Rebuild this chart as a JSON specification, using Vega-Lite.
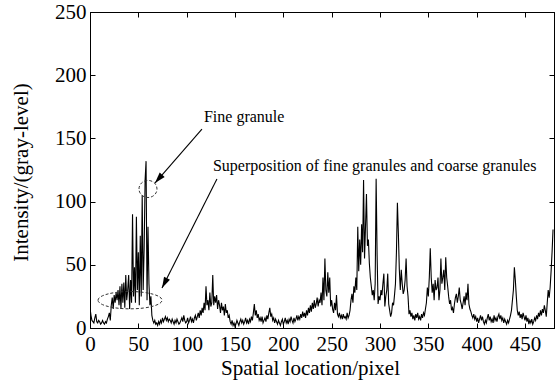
{
  "$schema": "https://vega.github.io/schema/vega-lite/v6.json",
  "width": 464,
  "height": 316,
  "autosize": {"type": "none"},
  "padding": {"left": 90, "top": 12, "right": 2, "bottom": 53},
  "background": "white",
  "datasets": {
    "profile": [
      {"pixel":0,"intensity":16},{"pixel":1,"intensity":10},{"pixel":2,"intensity":6},{"pixel":3,"intensity":5},{"pixel":4,"intensity":4},
      {"pixel":5,"intensity":8},{"pixel":6,"intensity":11},{"pixel":7,"intensity":5},{"pixel":8,"intensity":4},{"pixel":9,"intensity":6},
      {"pixel":10,"intensity":5},{"pixel":11,"intensity":3},{"pixel":12,"intensity":4},{"pixel":13,"intensity":6},{"pixel":14,"intensity":4},
      {"pixel":15,"intensity":3},{"pixel":16,"intensity":5},{"pixel":17,"intensity":4},{"pixel":18,"intensity":7},{"pixel":19,"intensity":9},
      {"pixel":20,"intensity":12},{"pixel":21,"intensity":6},{"pixel":22,"intensity":18},{"pixel":23,"intensity":24},{"pixel":24,"intensity":15},
      {"pixel":25,"intensity":26},{"pixel":26,"intensity":20},{"pixel":27,"intensity":28},{"pixel":28,"intensity":22},{"pixel":29,"intensity":30},
      {"pixel":30,"intensity":18},{"pixel":31,"intensity":33},{"pixel":32,"intensity":15},{"pixel":33,"intensity":35},{"pixel":34,"intensity":20},
      {"pixel":35,"intensity":36},{"pixel":36,"intensity":16},{"pixel":37,"intensity":42},{"pixel":38,"intensity":22},{"pixel":39,"intensity":30},
      {"pixel":40,"intensity":42},{"pixel":41,"intensity":15},{"pixel":42,"intensity":38},{"pixel":43,"intensity":20},{"pixel":44,"intensity":90},
      {"pixel":45,"intensity":25},{"pixel":46,"intensity":48},{"pixel":47,"intensity":20},{"pixel":48,"intensity":88},{"pixel":49,"intensity":30},
      {"pixel":50,"intensity":60},{"pixel":51,"intensity":18},{"pixel":52,"intensity":73},{"pixel":53,"intensity":25},{"pixel":54,"intensity":105},
      {"pixel":55,"intensity":30},{"pixel":56,"intensity":62},{"pixel":57,"intensity":117},{"pixel":58,"intensity":132},{"pixel":59,"intensity":22},
      {"pixel":60,"intensity":80},{"pixel":61,"intensity":35},{"pixel":62,"intensity":18},{"pixel":63,"intensity":25},{"pixel":64,"intensity":10},
      {"pixel":65,"intensity":6},{"pixel":66,"intensity":4},{"pixel":67,"intensity":6},{"pixel":68,"intensity":3},{"pixel":69,"intensity":4},
      {"pixel":70,"intensity":2},{"pixel":71,"intensity":5},{"pixel":72,"intensity":3},{"pixel":73,"intensity":6},{"pixel":74,"intensity":4},
      {"pixel":75,"intensity":8},{"pixel":76,"intensity":5},{"pixel":77,"intensity":7},{"pixel":78,"intensity":9},{"pixel":79,"intensity":6},
      {"pixel":80,"intensity":8},{"pixel":81,"intensity":5},{"pixel":82,"intensity":7},{"pixel":83,"intensity":6},{"pixel":84,"intensity":4},
      {"pixel":85,"intensity":7},{"pixel":86,"intensity":5},{"pixel":87,"intensity":3},{"pixel":88,"intensity":6},{"pixel":89,"intensity":4},
      {"pixel":90,"intensity":7},{"pixel":91,"intensity":5},{"pixel":92,"intensity":3},{"pixel":93,"intensity":4},{"pixel":94,"intensity":6},
      {"pixel":95,"intensity":8},{"pixel":96,"intensity":5},{"pixel":97,"intensity":10},{"pixel":98,"intensity":6},{"pixel":99,"intensity":4},
      {"pixel":100,"intensity":5},{"pixel":101,"intensity":8},{"pixel":102,"intensity":4},{"pixel":103,"intensity":6},{"pixel":104,"intensity":9},
      {"pixel":105,"intensity":5},{"pixel":106,"intensity":7},{"pixel":107,"intensity":4},{"pixel":108,"intensity":8},{"pixel":109,"intensity":10},
      {"pixel":110,"intensity":6},{"pixel":111,"intensity":9},{"pixel":112,"intensity":12},{"pixel":113,"intensity":8},{"pixel":114,"intensity":14},
      {"pixel":115,"intensity":10},{"pixel":116,"intensity":16},{"pixel":117,"intensity":12},{"pixel":118,"intensity":20},{"pixel":119,"intensity":14},
      {"pixel":120,"intensity":33},{"pixel":121,"intensity":18},{"pixel":122,"intensity":22},{"pixel":123,"intensity":14},{"pixel":124,"intensity":28},
      {"pixel":125,"intensity":17},{"pixel":126,"intensity":20},{"pixel":127,"intensity":42},{"pixel":128,"intensity":18},{"pixel":129,"intensity":25},
      {"pixel":130,"intensity":20},{"pixel":131,"intensity":26},{"pixel":132,"intensity":15},{"pixel":133,"intensity":22},{"pixel":134,"intensity":18},
      {"pixel":135,"intensity":12},{"pixel":136,"intensity":20},{"pixel":137,"intensity":14},{"pixel":138,"intensity":17},{"pixel":139,"intensity":10},
      {"pixel":140,"intensity":19},{"pixel":141,"intensity":12},{"pixel":142,"intensity":14},{"pixel":143,"intensity":8},{"pixel":144,"intensity":10},
      {"pixel":145,"intensity":5},{"pixel":146,"intensity":3},{"pixel":147,"intensity":6},{"pixel":148,"intensity":2},{"pixel":149,"intensity":4},
      {"pixel":150,"intensity":1},{"pixel":151,"intensity":3},{"pixel":152,"intensity":6},{"pixel":153,"intensity":4},{"pixel":154,"intensity":2},
      {"pixel":155,"intensity":5},{"pixel":156,"intensity":7},{"pixel":157,"intensity":4},{"pixel":158,"intensity":6},{"pixel":159,"intensity":3},
      {"pixel":160,"intensity":5},{"pixel":161,"intensity":8},{"pixel":162,"intensity":4},{"pixel":163,"intensity":6},{"pixel":164,"intensity":3},
      {"pixel":165,"intensity":7},{"pixel":166,"intensity":5},{"pixel":167,"intensity":9},{"pixel":168,"intensity":6},{"pixel":169,"intensity":12},
      {"pixel":170,"intensity":19},{"pixel":171,"intensity":10},{"pixel":172,"intensity":14},{"pixel":173,"intensity":8},{"pixel":174,"intensity":11},
      {"pixel":175,"intensity":6},{"pixel":176,"intensity":8},{"pixel":177,"intensity":5},{"pixel":178,"intensity":9},{"pixel":179,"intensity":4},
      {"pixel":180,"intensity":6},{"pixel":181,"intensity":8},{"pixel":182,"intensity":5},{"pixel":183,"intensity":10},{"pixel":184,"intensity":7},
      {"pixel":185,"intensity":12},{"pixel":186,"intensity":16},{"pixel":187,"intensity":9},{"pixel":188,"intensity":11},{"pixel":189,"intensity":6},
      {"pixel":190,"intensity":8},{"pixel":191,"intensity":4},{"pixel":192,"intensity":7},{"pixel":193,"intensity":5},{"pixel":194,"intensity":3},
      {"pixel":195,"intensity":6},{"pixel":196,"intensity":4},{"pixel":197,"intensity":2},{"pixel":198,"intensity":5},{"pixel":199,"intensity":7},
      {"pixel":200,"intensity":3},{"pixel":201,"intensity":5},{"pixel":202,"intensity":8},{"pixel":203,"intensity":4},{"pixel":204,"intensity":6},
      {"pixel":205,"intensity":3},{"pixel":206,"intensity":7},{"pixel":207,"intensity":5},{"pixel":208,"intensity":9},{"pixel":209,"intensity":6},
      {"pixel":210,"intensity":4},{"pixel":211,"intensity":8},{"pixel":212,"intensity":5},{"pixel":213,"intensity":7},{"pixel":214,"intensity":10},
      {"pixel":215,"intensity":6},{"pixel":216,"intensity":9},{"pixel":217,"intensity":7},{"pixel":218,"intensity":11},{"pixel":219,"intensity":8},
      {"pixel":220,"intensity":13},{"pixel":221,"intensity":9},{"pixel":222,"intensity":12},{"pixel":223,"intensity":8},{"pixel":224,"intensity":14},
      {"pixel":225,"intensity":10},{"pixel":226,"intensity":16},{"pixel":227,"intensity":12},{"pixel":228,"intensity":18},{"pixel":229,"intensity":13},
      {"pixel":230,"intensity":20},{"pixel":231,"intensity":15},{"pixel":232,"intensity":22},{"pixel":233,"intensity":16},{"pixel":234,"intensity":19},
      {"pixel":235,"intensity":24},{"pixel":236,"intensity":17},{"pixel":237,"intensity":22},{"pixel":238,"intensity":20},{"pixel":239,"intensity":28},
      {"pixel":240,"intensity":18},{"pixel":241,"intensity":40},{"pixel":242,"intensity":22},{"pixel":243,"intensity":55},{"pixel":244,"intensity":30},
      {"pixel":245,"intensity":25},{"pixel":246,"intensity":44},{"pixel":247,"intensity":28},{"pixel":248,"intensity":40},{"pixel":249,"intensity":17},
      {"pixel":250,"intensity":22},{"pixel":251,"intensity":15},{"pixel":252,"intensity":12},{"pixel":253,"intensity":20},{"pixel":254,"intensity":14},
      {"pixel":255,"intensity":26},{"pixel":256,"intensity":11},{"pixel":257,"intensity":9},{"pixel":258,"intensity":12},{"pixel":259,"intensity":8},
      {"pixel":260,"intensity":10},{"pixel":261,"intensity":7},{"pixel":262,"intensity":11},{"pixel":263,"intensity":8},{"pixel":264,"intensity":9},
      {"pixel":265,"intensity":7},{"pixel":266,"intensity":12},{"pixel":267,"intensity":8},{"pixel":268,"intensity":10},{"pixel":269,"intensity":14},
      {"pixel":270,"intensity":22},{"pixel":271,"intensity":27},{"pixel":272,"intensity":20},{"pixel":273,"intensity":33},{"pixel":274,"intensity":28},
      {"pixel":275,"intensity":40},{"pixel":276,"intensity":30},{"pixel":277,"intensity":80},{"pixel":278,"intensity":45},{"pixel":279,"intensity":70},
      {"pixel":280,"intensity":50},{"pixel":281,"intensity":82},{"pixel":282,"intensity":60},{"pixel":283,"intensity":117},{"pixel":284,"intensity":55},
      {"pixel":285,"intensity":80},{"pixel":286,"intensity":106},{"pixel":287,"intensity":65},{"pixel":288,"intensity":70},{"pixel":289,"intensity":51},
      {"pixel":290,"intensity":40},{"pixel":291,"intensity":33},{"pixel":292,"intensity":26},{"pixel":293,"intensity":30},{"pixel":294,"intensity":22},
      {"pixel":295,"intensity":35},{"pixel":296,"intensity":118},{"pixel":297,"intensity":58},{"pixel":298,"intensity":19},{"pixel":299,"intensity":25},
      {"pixel":300,"intensity":22},{"pixel":301,"intensity":30},{"pixel":302,"intensity":26},{"pixel":303,"intensity":35},{"pixel":304,"intensity":43},
      {"pixel":305,"intensity":17},{"pixel":306,"intensity":25},{"pixel":307,"intensity":30},{"pixel":308,"intensity":43},{"pixel":309,"intensity":19},
      {"pixel":310,"intensity":14},{"pixel":311,"intensity":9},{"pixel":312,"intensity":12},{"pixel":313,"intensity":20},{"pixel":314,"intensity":18},
      {"pixel":315,"intensity":26},{"pixel":316,"intensity":35},{"pixel":317,"intensity":60},{"pixel":318,"intensity":99},{"pixel":319,"intensity":75},
      {"pixel":320,"intensity":46},{"pixel":321,"intensity":30},{"pixel":322,"intensity":46},{"pixel":323,"intensity":35},{"pixel":324,"intensity":27},
      {"pixel":325,"intensity":30},{"pixel":326,"intensity":38},{"pixel":327,"intensity":55},{"pixel":328,"intensity":33},{"pixel":329,"intensity":25},
      {"pixel":330,"intensity":11},{"pixel":331,"intensity":14},{"pixel":332,"intensity":9},{"pixel":333,"intensity":12},{"pixel":334,"intensity":7},
      {"pixel":335,"intensity":10},{"pixel":336,"intensity":6},{"pixel":337,"intensity":11},{"pixel":338,"intensity":8},{"pixel":339,"intensity":12},
      {"pixel":340,"intensity":7},{"pixel":341,"intensity":9},{"pixel":342,"intensity":6},{"pixel":343,"intensity":11},{"pixel":344,"intensity":8},
      {"pixel":345,"intensity":12},{"pixel":346,"intensity":10},{"pixel":347,"intensity":15},{"pixel":348,"intensity":20},{"pixel":349,"intensity":32},
      {"pixel":350,"intensity":25},{"pixel":351,"intensity":40},{"pixel":352,"intensity":63},{"pixel":353,"intensity":40},{"pixel":354,"intensity":28},
      {"pixel":355,"intensity":35},{"pixel":356,"intensity":22},{"pixel":357,"intensity":38},{"pixel":358,"intensity":30},{"pixel":359,"intensity":32},
      {"pixel":360,"intensity":40},{"pixel":361,"intensity":22},{"pixel":362,"intensity":30},{"pixel":363,"intensity":55},{"pixel":364,"intensity":35},
      {"pixel":365,"intensity":40},{"pixel":366,"intensity":46},{"pixel":367,"intensity":30},{"pixel":368,"intensity":56},{"pixel":369,"intensity":40},
      {"pixel":370,"intensity":33},{"pixel":371,"intensity":25},{"pixel":372,"intensity":19},{"pixel":373,"intensity":22},{"pixel":374,"intensity":14},
      {"pixel":375,"intensity":16},{"pixel":376,"intensity":12},{"pixel":377,"intensity":19},{"pixel":378,"intensity":24},{"pixel":379,"intensity":27},
      {"pixel":380,"intensity":20},{"pixel":381,"intensity":25},{"pixel":382,"intensity":32},{"pixel":383,"intensity":22},{"pixel":384,"intensity":19},
      {"pixel":385,"intensity":15},{"pixel":386,"intensity":20},{"pixel":387,"intensity":25},{"pixel":388,"intensity":18},{"pixel":389,"intensity":28},
      {"pixel":390,"intensity":22},{"pixel":391,"intensity":35},{"pixel":392,"intensity":19},{"pixel":393,"intensity":15},{"pixel":394,"intensity":13},
      {"pixel":395,"intensity":10},{"pixel":396,"intensity":8},{"pixel":397,"intensity":11},{"pixel":398,"intensity":7},{"pixel":399,"intensity":9},
      {"pixel":400,"intensity":5},{"pixel":401,"intensity":8},{"pixel":402,"intensity":4},{"pixel":403,"intensity":7},{"pixel":404,"intensity":10},
      {"pixel":405,"intensity":6},{"pixel":406,"intensity":9},{"pixel":407,"intensity":5},{"pixel":408,"intensity":3},{"pixel":409,"intensity":6},
      {"pixel":410,"intensity":4},{"pixel":411,"intensity":8},{"pixel":412,"intensity":11},{"pixel":413,"intensity":6},{"pixel":414,"intensity":9},
      {"pixel":415,"intensity":5},{"pixel":416,"intensity":7},{"pixel":417,"intensity":4},{"pixel":418,"intensity":10},{"pixel":419,"intensity":6},
      {"pixel":420,"intensity":8},{"pixel":421,"intensity":5},{"pixel":422,"intensity":9},{"pixel":423,"intensity":11},{"pixel":424,"intensity":7},
      {"pixel":425,"intensity":10},{"pixel":426,"intensity":6},{"pixel":427,"intensity":8},{"pixel":428,"intensity":4},{"pixel":429,"intensity":7},
      {"pixel":430,"intensity":5},{"pixel":431,"intensity":3},{"pixel":432,"intensity":6},{"pixel":433,"intensity":4},{"pixel":434,"intensity":7},
      {"pixel":435,"intensity":10},{"pixel":436,"intensity":14},{"pixel":437,"intensity":22},{"pixel":438,"intensity":30},{"pixel":439,"intensity":48},
      {"pixel":440,"intensity":38},{"pixel":441,"intensity":25},{"pixel":442,"intensity":14},{"pixel":443,"intensity":10},{"pixel":444,"intensity":13},
      {"pixel":445,"intensity":8},{"pixel":446,"intensity":11},{"pixel":447,"intensity":7},{"pixel":448,"intensity":12},{"pixel":449,"intensity":9},
      {"pixel":450,"intensity":6},{"pixel":451,"intensity":10},{"pixel":452,"intensity":5},{"pixel":453,"intensity":8},{"pixel":454,"intensity":3},
      {"pixel":455,"intensity":6},{"pixel":456,"intensity":4},{"pixel":457,"intensity":7},{"pixel":458,"intensity":3},{"pixel":459,"intensity":5},
      {"pixel":460,"intensity":8},{"pixel":461,"intensity":6},{"pixel":462,"intensity":10},{"pixel":463,"intensity":7},{"pixel":464,"intensity":12},
      {"pixel":465,"intensity":9},{"pixel":466,"intensity":14},{"pixel":467,"intensity":10},{"pixel":468,"intensity":15},{"pixel":469,"intensity":12},
      {"pixel":470,"intensity":18},{"pixel":471,"intensity":14},{"pixel":472,"intensity":9},{"pixel":473,"intensity":20},{"pixel":474,"intensity":30},
      {"pixel":475,"intensity":24},{"pixel":476,"intensity":32},{"pixel":477,"intensity":45},{"pixel":478,"intensity":60},{"pixel":479,"intensity":78}
    ]
  },
  "layer": [
    {
      "data": {"name": "profile"},
      "mark": {"type": "line", "color": "black", "strokeWidth": 1.1, "clip": true},
      "encoding": {
        "x": {
          "field": "pixel", "type": "quantitative",
          "scale": {"domain": [0, 480], "nice": false, "zero": false},
          "axis": {
            "orient": "bottom",
            "values": [0, 50, 100, 150, 200, 250, 300, 350, 400, 450],
            "tickSize": -5, "labelPadding": 10, "labelFlush": false,
            "labelFont": "Liberation Serif", "labelFontSize": 21,
            "title": "Spatial location/pixel",
            "titleX": 220, "titleY": 40, "titleAlign": "center", "titleBaseline": "middle"
          }
        },
        "y": {
          "field": "intensity", "type": "quantitative",
          "scale": {"domain": [0, 250], "nice": false},
          "axis": {
            "orient": "left",
            "values": [0, 50, 100, 150, 200, 250],
            "tickSize": -5, "labelPadding": 9, "labelFlush": false,
            "labelFont": "Liberation Serif", "labelFontSize": 21,
            "title": "Intensity/(gray-level)",
            "titleX": -69, "titleY": 160, "titleAngle": 270, "titleAlign": "center", "titleBaseline": "middle"
          }
        }
      }
    },
    {
      "data": {"name": "profile"},
      "mark": {"type": "line", "strokeOpacity": 0},
      "encoding": {
        "x": {
          "field": "pixel", "type": "quantitative",
          "axis": {"orient": "top", "values": [0, 50, 100, 150, 200, 250, 300, 350, 400, 450], "tickSize": -5, "labels": false, "title": null}
        },
        "y": {
          "field": "intensity", "type": "quantitative",
          "axis": {"orient": "right", "values": [0, 50, 100, 150, 200, 250], "tickSize": -5, "labels": false, "title": null}
        }
      }
    },
    {
      "data": {"values": [{"pixel": 60, "intensity": 110}]},
      "mark": {"type": "point", "shape": "M-1,0 A1,0.95 0 1,1 1,0 A1,0.95 0 1,1 -1,0 Z", "size": 324, "filled": false, "stroke": "#333", "strokeWidth": 1, "strokeDash": [3, 2], "opacity": 1},
      "encoding": {
        "x": {"field": "pixel", "type": "quantitative", "axis": null},
        "y": {"field": "intensity", "type": "quantitative", "axis": null}
      }
    },
    {
      "data": {"values": [{"pixel": 41.4, "intensity": 22}]},
      "mark": {"type": "point", "shape": "M-1,0 A1,0.27 0 1,1 1,0 A1,0.27 0 1,1 -1,0 Z", "size": 4096, "filled": false, "stroke": "#333", "strokeWidth": 1, "strokeDash": [3, 2], "opacity": 1},
      "encoding": {
        "x": {"field": "pixel", "type": "quantitative", "axis": null},
        "y": {"field": "intensity", "type": "quantitative", "axis": null}
      }
    },
    {
      "data": {"values": [
        {"pixel": 115.8, "intensity": 157.4, "tipPixel": 67.2, "tipIntensity": 114.7},
        {"pixel": 131.3, "intensity": 117.9, "tipPixel": 74.5, "tipIntensity": 31.6}
      ]},
      "mark": {"type": "rule", "color": "black", "strokeWidth": 1.1},
      "encoding": {
        "x": {"field": "pixel", "type": "quantitative", "axis": null},
        "y": {"field": "intensity", "type": "quantitative", "axis": null},
        "x2": {"field": "tipPixel"},
        "y2": {"field": "tipIntensity"}
      }
    },
    {
      "data": {"values": [{"pixel": 67.2, "intensity": 114.7}]},
      "mark": {"type": "point", "shape": "M0,0 L-0.3,1 L0.3,1 Z", "size": 484, "filled": true, "color": "black", "opacity": 1, "angle": 221},
      "encoding": {
        "x": {"field": "pixel", "type": "quantitative", "axis": null},
        "y": {"field": "intensity", "type": "quantitative", "axis": null}
      }
    },
    {
      "data": {"values": [{"pixel": 74.5, "intensity": 31.6}]},
      "mark": {"type": "point", "shape": "M0,0 L-0.3,1 L0.3,1 Z", "size": 484, "filled": true, "color": "black", "opacity": 1, "angle": 207},
      "encoding": {
        "x": {"field": "pixel", "type": "quantitative", "axis": null},
        "y": {"field": "intensity", "type": "quantitative", "axis": null}
      }
    },
    {
      "data": {"values": [
        {"pixel": 117.9, "intensity": 167, "note": "Fine granule"},
        {"pixel": 127.2, "intensity": 128.4, "note": "Superposition of fine granules and coarse granules"}
      ]},
      "mark": {"type": "text", "align": "left", "baseline": "middle", "font": "Liberation Serif", "fontSize": 16, "color": "black"},
      "encoding": {
        "x": {"field": "pixel", "type": "quantitative", "axis": null},
        "y": {"field": "intensity", "type": "quantitative", "axis": null},
        "text": {"field": "note"}
      }
    }
  ],
  "resolve": {"axis": {"x": "independent", "y": "independent"}},
  "config": {
    "view": {"stroke": "black", "strokeWidth": 1},
    "axis": {
      "grid": false,
      "domainColor": "black", "domainWidth": 1,
      "tickColor": "black", "tickWidth": 1,
      "labelColor": "black", "titleColor": "black",
      "labelFont": "Liberation Serif", "titleFont": "Liberation Serif",
      "labelFontSize": 21, "titleFontSize": 21, "titleFontWeight": "normal"
    }
  }
}
